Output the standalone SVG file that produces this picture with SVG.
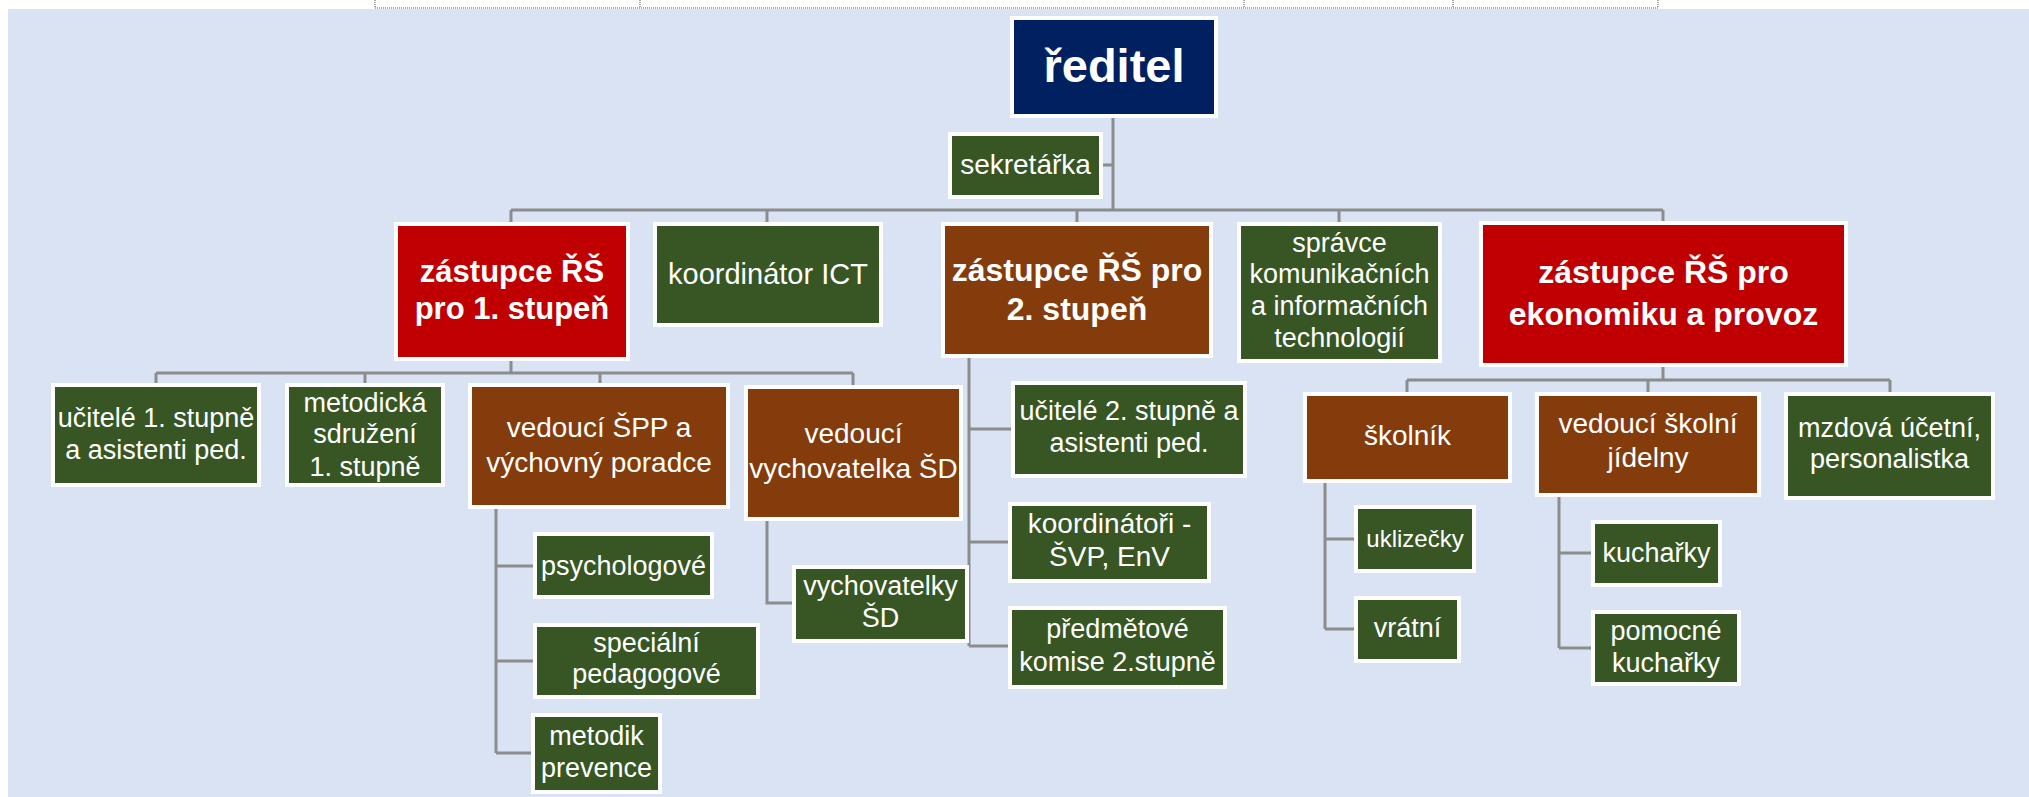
<svg xmlns="http://www.w3.org/2000/svg" width="2029" height="797" viewBox="0 0 2029 797">
<style>
.bg{fill:#DAE3F3}
.tbl{stroke:#555;stroke-width:1;stroke-dasharray:1 1;fill:none}
.box{stroke:#FFFFFF;stroke-width:4}
.g{fill:#375623}.b{fill:#843C0C}.r{fill:#C00000}.n{fill:#002060}
text{fill:#FFFFFF;font-family:"Liberation Sans",Arial,sans-serif;text-anchor:middle;font-size:27px}
.bd{font-weight:bold}
.c{stroke:#8C8C8C;stroke-width:3;fill:none}
</style>
<rect x="0" y="0" width="2029" height="797" fill="#FFFFFF"/>
<rect class="bg" x="8" y="9" width="2021" height="788"/>
<g id="table">
<path class="tbl" d="M375,8H1658M375,0V8M640,0V8M1244,0V8M1453,0V8M1658,0V8"/>
</g>
<g id="connectors">
<path class="c" d="M1113,118V210M1103,165H1113M511,210H1663M511,210V222M767,210V222M1077,210V222M1339,210V222M1663,210V221"/>
<path class="c" d="M511,361V373M156,373H853M156,373V383M365,373V383M600,373V383M853,373V385"/>
<path class="c" d="M496,509V753M496,566H533M496,661H533M496,753H531"/>
<path class="c" d="M767,521V603H792"/>
<path class="c" d="M969,358V646M969,429H1011M969,542H1008M969,646H1008"/>
<path class="c" d="M1663,367V380M1407,380H1890M1407,380V392M1648,380V392M1890,380V392"/>
<path class="c" d="M1325,483V629M1325,539H1354M1325,629H1354"/>
<path class="c" d="M1559,497V648M1559,553H1591M1559,648H1591"/>
</g>
<g id="reditel"><rect class="box n" x="1012" y="18" width="204" height="98"/><text class="bd" x="1114" y="82" style="font-size:47px">ředitel</text></g>
<g id="sekretarka"><rect class="box g" x="950" y="134" width="151" height="63"/><text x="1025.5" y="174" style="font-size:28px">sekretářka</text></g>
<g id="zastupce1"><rect class="box r" x="396" y="224" width="232" height="135"/><text class="bd" x="512" style="font-size:31px"><tspan x="512" y="282">zástupce ŘŠ</tspan><tspan x="512" y="319">pro 1. stupeň</tspan></text></g>
<g id="ict"><rect class="box g" x="655" y="224" width="226" height="101"/><text x="768" y="284" style="font-size:29px">koordinátor ICT</text></g>
<g id="zastupce2"><rect class="box b" x="943" y="224" width="268" height="132"/><text class="bd" style="font-size:32px"><tspan x="1077" y="281">zástupce ŘŠ pro</tspan><tspan x="1077" y="320">2. stupeň</tspan></text></g>
<g id="spravce"><rect class="box g" x="1239" y="224" width="201" height="137"/><text><tspan x="1339.5" y="252">správce</tspan><tspan x="1339.5" y="283">komunikačních</tspan><tspan x="1339.5" y="315">a informačních</tspan><tspan x="1339.5" y="347">technologií</tspan></text></g>
<g id="ekonomika"><rect class="box r" x="1481" y="223" width="365" height="142"/><text class="bd" style="font-size:32px"><tspan x="1663.5" y="283">zástupce ŘŠ pro</tspan><tspan x="1663.5" y="325">ekonomiku a provoz</tspan></text></g>
<g id="ucitele1"><rect class="box g" x="53" y="385" width="206" height="100"/><text><tspan x="156" y="427">učitelé 1. stupně</tspan><tspan x="156" y="459">a asistenti ped.</tspan></text></g>
<g id="metodicka"><rect class="box g" x="287" y="385" width="156" height="100"/><text><tspan x="365" y="412">metodická</tspan><tspan x="365" y="443">sdružení</tspan><tspan x="365" y="476">1. stupně</tspan></text></g>
<g id="spp"><rect class="box b" x="470" y="385" width="258" height="122"/><text style="font-size:28px"><tspan x="599" y="437">vedoucí ŠPP a</tspan><tspan x="599" y="472">výchovný poradce</tspan></text></g>
<g id="vychovatelka"><rect class="box b" x="746" y="387" width="215" height="132"/><text style="font-size:28px"><tspan x="853.5" y="443">vedoucí</tspan><tspan x="853.5" y="478">vychovatelka ŠD</tspan></text></g>
<g id="psychologove"><rect class="box g" x="535" y="534" width="177" height="63"/><text x="623.5" y="575">psychologové</text></g>
<g id="specialni"><rect class="box g" x="535" y="625" width="223" height="72"/><text><tspan x="646.5" y="652">speciální</tspan><tspan x="646.5" y="683">pedagogové</tspan></text></g>
<g id="metodik"><rect class="box g" x="533" y="715" width="127" height="77"/><text><tspan x="596.5" y="745">metodik</tspan><tspan x="596.5" y="777">prevence</tspan></text></g>
<g id="vychovatelky"><rect class="box g" x="794" y="567" width="173" height="74"/><text><tspan x="880.5" y="595">vychovatelky</tspan><tspan x="880.5" y="627">ŠD</tspan></text></g>
<g id="ucitele2"><rect class="box g" x="1013" y="383" width="232" height="93"/><text><tspan x="1129" y="420">učitelé 2. stupně a</tspan><tspan x="1129" y="452">asistenti ped.</tspan></text></g>
<g id="koordinatori"><rect class="box g" x="1010" y="504" width="199" height="77"/><text style="font-size:28px"><tspan x="1109.5" y="533">koordinátoři -</tspan><tspan x="1109.5" y="566">ŠVP, EnV</tspan></text></g>
<g id="predmetove"><rect class="box g" x="1010" y="608" width="215" height="79"/><text><tspan x="1117.5" y="638">předmětové</tspan><tspan x="1117.5" y="671">komise 2.stupně</tspan></text></g>
<g id="skolnik"><rect class="box b" x="1305" y="394" width="205" height="87"/><text x="1407.5" y="445" style="font-size:28px">školník</text></g>
<g id="jidelna"><rect class="box b" x="1537" y="394" width="222" height="101"/><text style="font-size:28px"><tspan x="1648" y="433">vedoucí školní</tspan><tspan x="1648" y="467">jídelny</tspan></text></g>
<g id="mzdova"><rect class="box g" x="1786" y="394" width="207" height="104"/><text><tspan x="1889.5" y="437">mzdová účetní,</tspan><tspan x="1889.5" y="468">personalistka</tspan></text></g>
<g id="uklizecky"><rect class="box g" x="1356" y="507" width="118" height="64"/><text x="1415" y="547" style="font-size:24px">uklizečky</text></g>
<g id="vratni"><rect class="box g" x="1356" y="598" width="103" height="63"/><text x="1407.5" y="637">vrátní</text></g>
<g id="kucharky"><rect class="box g" x="1593" y="522" width="127" height="63"/><text x="1656.5" y="562">kuchařky</text></g>
<g id="pomocne"><rect class="box g" x="1593" y="612" width="146" height="72"/><text><tspan x="1666" y="640">pomocné</tspan><tspan x="1666" y="672">kuchařky</tspan></text></g>
</svg>
